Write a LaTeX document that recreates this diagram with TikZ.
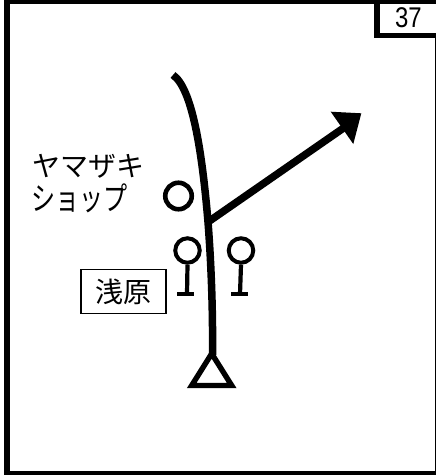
\documentclass[tikz,border=0pt]{standalone}
\usepackage{graphicx}
\usepackage{fontspec}
\setmainfont{Noto Sans CJK JP}
\newfontfamily\numfont{Liberation Sans}
\tikzset{
  track/.style={line width=7.5pt},
  ring/.style={circle,draw,line width=4.6pt,minimum size=26.5pt,inner sep=0pt},
  sigring/.style={circle,draw,line width=4pt,minimum size=24.5pt,inner sep=0pt},
  stem/.style={line width=4.2pt},
  jtext/.style={inner sep=0pt,font=\fontsize{28}{30}\selectfont}
}
\begin{document}
\begin{tikzpicture}[x=1pt,y=-1pt]
\useasboundingbox (0,0) rectangle (436,475);
\fill[white] (0,0) rectangle (436,475);
\fill[black] (4,0) rectangle (436,4);
\fill[black] (4,0) rectangle (10,475);
\fill[black] (4,471) rectangle (436,475);
\fill[black] (435,38) rectangle (436,475);
\fill[black] (374,0) rectangle (380,38);
\fill[black] (374,33) rectangle (436,38);
\node[inner sep=0pt,font=\numfont\fontsize{28.5}{28}\selectfont] (num) at (408.5,17.5) {\scalebox{.84}[1]{37}};
\coordinate (top) at (173,75);
\coordinate (junc) at (208,222);
\coordinate (base) at (212.5,355);
\draw[track] (top) .. controls (192,88) and (202,150) .. (junc) .. controls (211,260) and (213,310) .. (base);
\draw[track] (junc) -- (345,127);
\fill (361.3,113.3) -- (330.7,111.7) -- (353.3,144) -- cycle;
\node[ring] (shop) at (178.5,196) {};
\node[sigring] (s1) at (187.5,250.5) {};
\node[sigring] (s2) at (241,250.5) {};
\coordinate (f1) at (187,294);
\coordinate (f2) at (240,294);
\draw[stem] (s1.south) -- (f1);
\draw[stem] (s2.south) -- (f2);
\draw[stem] (177,294) -- (194,294);
\draw[stem] (231,294) -- (247.7,294);
\node[draw,line width=1.6pt,minimum width=85pt,minimum height=44pt,inner sep=0pt,font=\fontsize{28}{30}\selectfont] (st) at (123.5,291.5) {浅原};
\draw[line width=5.4pt,miter limit=10] (211.7,353.6) -- (191.7,385.5) -- (231.7,385.5) -- cycle;
\node[jtext,anchor=west] (l1) at (32,166) {ヤマザキ};
\node[jtext,anchor=west] (l2) at (31,198) {\scalebox{.86}[1.15]{ショップ}};
\end{tikzpicture}
\end{document}
